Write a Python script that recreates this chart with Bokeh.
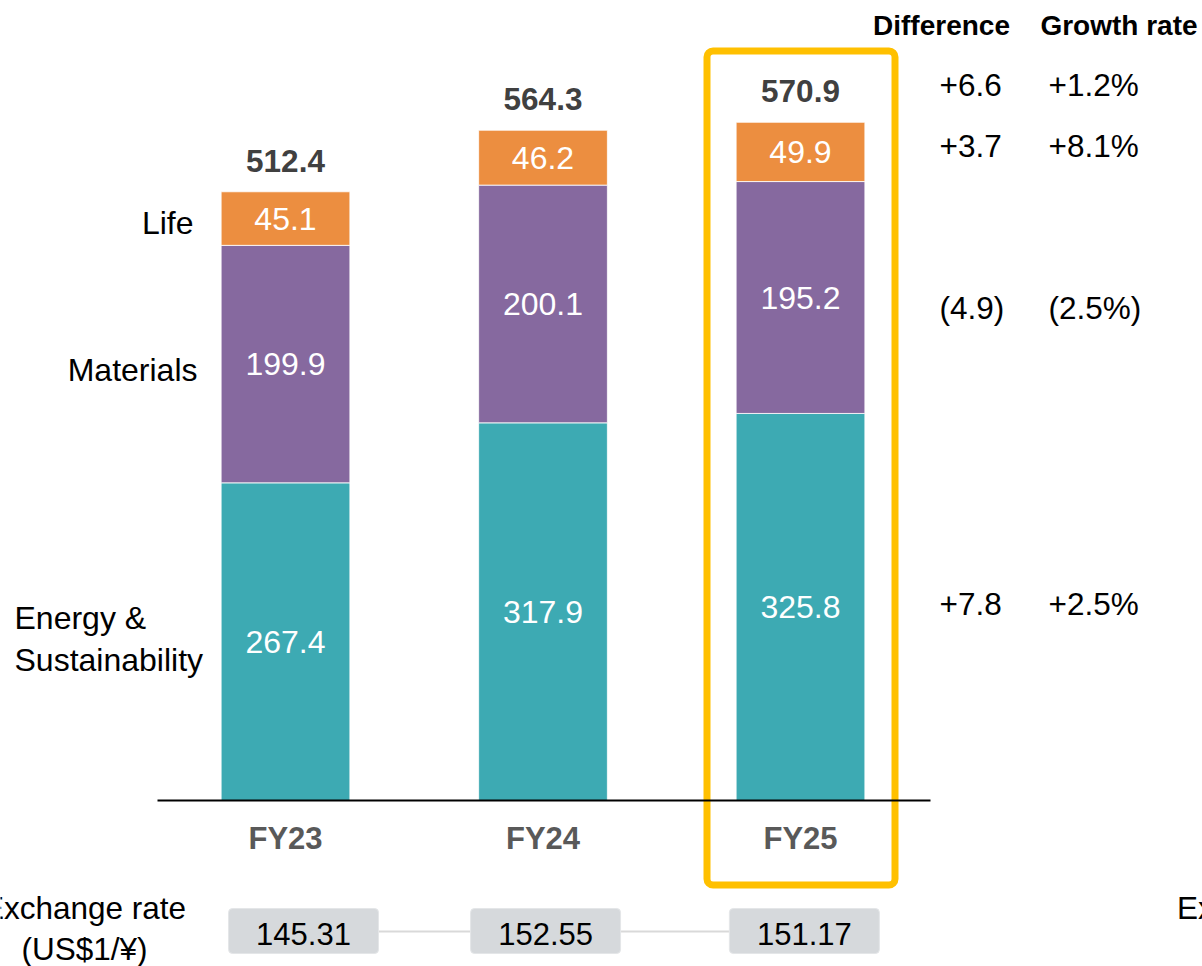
from bokeh.plotting import figure
from bokeh.models import Range1d, ColumnDataSource, BoxAnnotation
from bokeh.core.properties import value
from bokeh.embed import file_html
from bokeh.resources import INLINE

# ---------------- data ----------------
years = ["FY23", "FY24", "FY25"]
segments = ["energy", "materials", "life"]
segment_names = ["Energy &\nSustainability", "Materials", "Life"]
energy = [267.4, 317.9, 325.8]
materials = [199.9, 200.1, 195.2]
life = [45.1, 46.2, 49.9]
totals = [512.4, 564.3, 570.9]
diff_header = "Difference"
growth_header = "Growth rate"
diff_labels = ["+6.6", "+3.7", "(4.9)", "+7.8"]
growth_labels = ["+1.2%", "+8.1%", "(2.5%)", "+2.5%"]
exchange_rates = [145.31, 152.55, 151.17]
exchange_title = "Exchange rate\n(US$1/\u00a5)"

# ---------------- style / layout ----------------
colors = ["#3DAAB3", "#86699F", "#EC8E40"]
FONT = value("Liberation Sans")
W, H = 1202, 966
SX = 257.5      # px per category step
SY = 1.188      # px per value unit
X0 = -285 / SX
BASE = 800      # baseline pixel row


def X(px):
    return X0 + px / SX


def Y(py):
    return (BASE - py) / SY


p = figure(width=W, height=H,
           x_range=Range1d(X0, X0 + W / SX),
           y_range=Range1d(-(H - BASE) / SY, BASE / SY),
           x_axis_type=None, y_axis_type=None,
           output_backend="svg", toolbar_location=None,
           min_border=0, outline_line_color=None,
           background_fill_color="white", border_fill_color="white")

xs = list(range(len(years)))
src = ColumnDataSource(dict(x=xs, energy=energy, materials=materials, life=life))
p.vbar_stack(segments, x="x", width=0.5, color=colors, line_color="white",
             line_width=0.8, source=src)

# segment labels (white, centred in each segment)
seg_x, seg_y, seg_t = [], [], []
for i in xs:
    vals = [energy[i], materials[i], life[i]]
    bottom = 0
    for v in vals:
        seg_x.append(i)
        seg_y.append(bottom + v / 2)
        seg_t.append(f"{v:.1f}")
        bottom += v
p.text(x=seg_x, y=seg_y, text=seg_t, text_font=FONT, text_font_size="32px",
       text_color="white", text_align="center", text_baseline="middle")

# totals above bars
p.text(x=xs, y=[t + 26 for t in totals], text=[f"{t:.1f}" for t in totals],
       text_font=FONT, text_font_size="31.5px", text_font_style="bold",
       text_color="#404040", text_align="center", text_baseline="middle")

# baseline
p.line(x=[X(157), X(930)], y=[0, 0], line_color="black", line_width=2)

# category labels
p.text(x=xs, y=[Y(838)] * 3, text=years, text_font=FONT, text_font_size="31px",
       text_font_style="bold", text_color="#595959", text_align="center",
       text_baseline="middle")

# segment names on the left
p.text(x=[X(14)], y=[Y(638.5)], text=[segment_names[0]], text_font=FONT,
       text_font_size="32px", text_color="black", text_align="left",
       text_baseline="middle", text_line_height=1.15)
p.text(x=[X(197), X(193)], y=[Y(369), Y(222)], text=segment_names[1:],
       text_font=FONT, text_font_size="32px", text_color="black",
       text_align="right", text_baseline="middle")

# right-hand columns
p.text(x=[X(941), X(1118.5)], y=[Y(25)] * 2, text=[diff_header, growth_header],
       text_font=FONT, text_font_size="28px", text_font_style="bold",
       text_color="black", text_align="center", text_baseline="middle")
row_y = [Y(84), Y(145), Y(307), Y(603)]
p.text(x=[X(939)] * 4, y=row_y, text=diff_labels, text_font=FONT,
       text_font_size="31.5px", text_color="black", text_align="left",
       text_baseline="middle")
p.text(x=[X(1048)] * 4, y=row_y, text=growth_labels, text_font=FONT,
       text_font_size="31.5px", text_color="black", text_align="left",
       text_baseline="middle")

# highlight frame around FY25
p.add_layout(BoxAnnotation(left=X(706.5), right=X(894.5), top=Y(50.5),
                           bottom=Y(884.5), fill_alpha=0, line_color="#FFC000",
                           line_alpha=1.0, line_width=7, border_radius=6,
                           level="underlay"))

# exchange rate row
rate_offset = [0.07, 0.01, 0.015]
rate_x = [i + o for i, o in zip(xs, rate_offset)]
rate_y = Y(930.5)
p.line(x=[rate_x[0], rate_x[-1]], y=[Y(931)] * 2, line_color="#D9D9D9",
       line_width=2)
p.rect(x=rate_x, y=[rate_y] * 3, width=150 / SX, height=45 / SY,
       fill_color="#D6D9DC", line_color="#E4E6E8", line_width=1,
       border_radius=4)
p.text(x=rate_x, y=[Y(933)] * 3, text=[f"{r:.2f}" for r in exchange_rates],
       text_font=FONT, text_font_size="31px", text_color="black",
       text_align="center", text_baseline="middle")

p.text(x=[X(84), X(1278)], y=[Y(928)] * 2, text=[exchange_title] * 2,
       text_font=FONT, text_font_size="31.5px", text_color="black",
       text_align="center", text_baseline="middle", text_line_height=1.15)

open("out.html", "w").write(file_html(p, INLINE))
